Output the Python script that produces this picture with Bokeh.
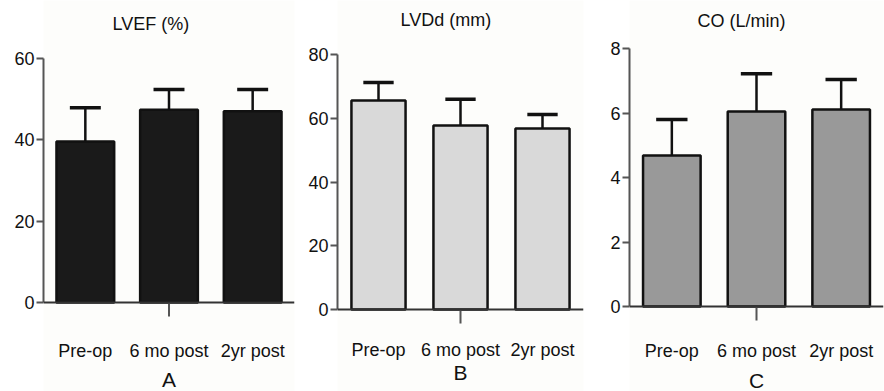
import math
from bokeh.plotting import figure
from bokeh.layouts import row
from bokeh.models import FixedTicker, Range1d, ColumnDataSource, Span
from bokeh.core.properties import value
from bokeh.embed import file_html
from bokeh.resources import INLINE

categories = ["Pre-op", "6 mo post", "2yr post"]
positions = [1, 2, 3]

lvef_mean = [39.6, 47.4, 47.0]
lvef_err = [8.3, 5.0, 5.4]
lvdd_mean = [65.6, 57.7, 56.8]
lvdd_err = [5.6, 8.3, 4.4]
co_mean = [4.68, 6.05, 6.11]
co_err = [1.12, 1.17, 0.93]

lvef_ticks = [0, 20, 40, 60]
lvdd_ticks = [0, 20, 40, 60, 80]
co_ticks = [0, 2, 4, 6, 8]

FONT = "Liberation Sans"
INK = "#111111"
H = 391          # figure height
PAGE_TOP = 0
SHIFT = 0.38     # baseline correction as a fraction of the font size


def panel(title, letter, means, errs, ticks, ymax, fill, width, bl, br,
          y0_page, ytop_page, title_dx, title_base, lab_base, let_base,
          bar_w=0.69, cap_hw=0.185):
    s = (y0_page - ytop_page) / ymax              # px per data unit
    y_lo = -(PAGE_TOP + H - y0_page) / s
    y_hi = ymax + (ytop_page - PAGE_TOP) / s
    p = figure(width=width, height=H, output_backend="svg", toolbar_location=None,
               x_range=Range1d(0.5, 3.5), y_range=Range1d(y_lo, y_hi),
               min_border_left=bl, min_border_right=br, min_border_top=0, min_border_bottom=0,
               background_fill_color="#fdfdfb", border_fill_color="white",
               outline_line_color=None)
    p.grid.visible = False
    p.xaxis.visible = False

    tops = [m + e for m, e in zip(means, errs)]
    src = ColumnDataSource(dict(x=positions, m=means, t=tops,
                                xl=[x - cap_hw for x in positions],
                                xr=[x + cap_hw for x in positions]))
    p.segment(x0="x", y0="m", x1="x", y1="t", source=src, line_color=INK, line_width=2.5)
    p.segment(x0="xl", y0="t", x1="xr", y1="t", source=src, line_color=INK, line_width=3.5)
    p.vbar(x="x", top="m", bottom=0, width=bar_w, source=src, fill_color=fill,
           line_color=INK, line_width=2.5)

    # x axis line and single centre tick
    p.add_layout(Span(location=0, dimension="width", line_color="#333333", line_width=2))
    p.ray(x=[2], y=[0], length=14, length_units="screen", angle=-math.pi / 2,
          line_color="#555555", line_width=2)

    # category labels and panel letter
    p.text(x=positions, y=[0, 0, 0], text=categories,
           y_offset=lab_base - y0_page - SHIFT * 18,
           text_align="center", text_baseline="alphabetic", text_font=value(FONT),
           text_font_size=value("18px"), text_color=INK)
    p.text(x=[2], y=[0], text=[letter], y_offset=let_base - y0_page - SHIFT * 21,
           text_align="center", text_baseline="alphabetic", text_font=value(FONT),
           text_font_size=value("21px"), text_color=INK)
    # title
    p.text(x=[0.5], y=[ymax], text=[title], x_offset=title_dx,
           y_offset=title_base - ytop_page - SHIFT * 18,
           text_align="left", text_baseline="alphabetic", text_font=value(FONT),
           text_font_size=value("18px"), text_color=INK)

    ya = p.yaxis[0]
    ya.ticker = FixedTicker(ticks=ticks)
    ya.bounds = (0, ymax)
    ya.axis_line_color = "#555555"
    ya.axis_line_width = 2
    ya.major_tick_line_color = "#555555"
    ya.major_tick_line_width = 2
    ya.major_tick_out = 7
    ya.major_tick_in = 0
    ya.minor_tick_line_color = None
    ya.major_label_standoff = 2
    ya.major_label_text_font = FONT
    ya.major_label_text_font_size = "18px"
    ya.major_label_text_color = INK
    return p


pa = panel("LVEF (%)", "A", lvef_mean, lvef_err, lvef_ticks, 60, "#1a1a1a",
           300, 43, 6, 302, 58, 69, 30, 357, 387)
pb = panel("LVDd (mm)", "B", lvdd_mean, lvdd_err, lvdd_ticks, 80, "#d9d9d9",
           295, 37, 12, 309, 54, 63, 26, 356, 380, bar_w=0.66)
pc = panel("CO (L/min)", "C", co_mean, co_err, co_ticks, 8, "#999999",
           289, 34, 1, 306, 48, 68, 27, 357, 388, bar_w=0.68)

layout = row(pa, pb, pc, spacing=0)
open("out.html", "w").write(file_html(layout, INLINE))
